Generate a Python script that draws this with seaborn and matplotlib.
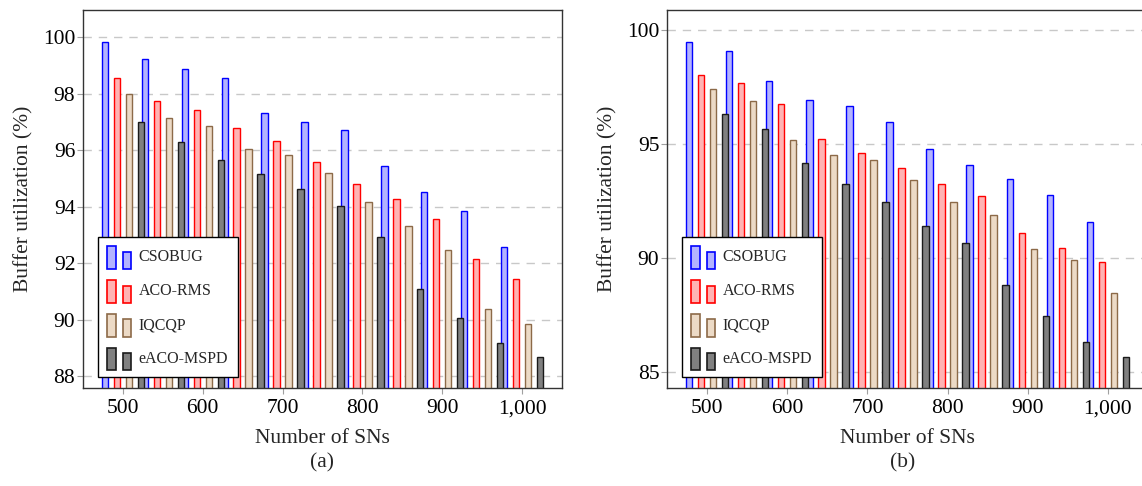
import numpy as np
import pandas as pd
import matplotlib
matplotlib.use("Agg")
import matplotlib.pyplot as plt
import seaborn as sns
from matplotlib.patches import Rectangle, Patch
from matplotlib.legend_handler import HandlerBase

# ---------------- data ----------------
sn_counts = [500, 550, 600, 650, 700, 750, 800, 850, 900, 950, 1000]
series_names = ["CSOBUG", "ACO-RMS", "IQCQP", "eACO-MSPD"]

a_csobug = [99.83, 99.21, 98.88, 98.57, 97.30, 97.00, 96.72, 95.44, 94.51, 93.86, 92.58]
a_aco_rms = [98.54, 97.73, 97.43, 96.80, 96.31, 95.59, 94.79, 94.27, 93.56, 92.15, 91.45]
a_iqcqp = [98.00, 97.12, 96.87, 96.05, 95.82, 95.20, 94.17, 93.33, 92.45, 90.36, 89.84]
a_eaco = [96.98, 96.27, 95.66, 95.15, 94.64, 94.02, 92.92, 91.10, 90.06, 89.19, 88.67]

b_csobug = [99.47, 99.08, 97.75, 96.93, 96.65, 95.95, 94.77, 94.05, 93.46, 92.76, 91.57]
b_aco_rms = [98.03, 97.65, 96.75, 95.22, 94.59, 93.95, 93.23, 92.71, 91.07, 90.44, 89.80]
b_iqcqp = [97.41, 96.89, 95.16, 94.53, 94.29, 93.41, 92.47, 91.87, 90.40, 89.91, 88.44]
b_eaco = [96.33, 95.66, 94.15, 93.22, 92.47, 91.38, 90.64, 88.80, 87.44, 86.30, 85.65]

x_ticks = [500, 600, 700, 800, 900, 1000]
x_tick_labels = ["500", "600", "700", "800", "900", "1,000"]
a_y_ticks = [88, 90, 92, 94, 96, 98, 100]
b_y_ticks = [85, 90, 95, 100]

# ---------------- style ----------------
sns.set_style("white")
plt.rcParams["font.family"] = ["Liberation Serif", "DejaVu Serif"]

fills = ["#b3b3ff", "#ffb3b3", "#ecdac6", "#808080"]
edges = ["#0000ff", "#ff0000", "#8c6a48", "#1a1a1a"]
offsets = [-22.5, -7.5, 7.5, 22.5]
bar_w = 8.0  # data units


class TwoBarHandler(HandlerBase):
    def create_artists(self, legend, orig_handle, xdescent, ydescent,
                       width, height, fontsize, trans):
        fc = orig_handle.get_facecolor()
        ec = orig_handle.get_edgecolor()
        w = width * 0.34
        r1 = Rectangle((-xdescent, -ydescent - 0.15 * height), w, height * 1.15,
                       facecolor=fc, edgecolor=ec, lw=1.2, transform=trans)
        r2 = Rectangle((-xdescent + width - w, -ydescent - 0.15 * height), w, height * 0.88,
                       facecolor=fc, edgecolor=ec, lw=1.2, transform=trans)
        return [r1, r2]


fig = plt.figure(figsize=(11.42, 4.86), dpi=100)
ax_a = fig.add_axes([83 / 1142, 98 / 486, 479 / 1142, 378 / 486])
ax_b = fig.add_axes([667 / 1142, 98 / 486, 481 / 1142, 378 / 486])

panels = [
    (ax_a, [a_csobug, a_aco_rms, a_iqcqp, a_eaco], a_y_ticks, (87.58, 100.96)),
    (ax_b, [b_csobug, b_aco_rms, b_iqcqp, b_eaco], b_y_ticks, (84.29, 100.87)),
]

for ax, series, yticks, ylim in panels:
    for i, vals in enumerate(series):
        df = pd.DataFrame({"x": np.array(sn_counts) + offsets[i], "y": vals})
        sns.barplot(data=df, x="x", y="y", native_scale=True, orient="x",
                    width=bar_w / 50.0, color=fills[i], saturation=1,
                    edgecolor=edges[i], linewidth=1.0, errorbar=None, ax=ax)
    ax.set_xlim(450, 1050)
    ax.set_ylim(*ylim)
    ax.set_xticks(x_ticks)
    ax.set_xticklabels(x_tick_labels)
    ax.set_yticks(yticks)
    ax.yaxis.grid(True, linestyle=(0, (6, 5)), color="#c8c8c8", linewidth=1.0)
    ax.xaxis.grid(False)
    ax.set_axisbelow(True)
    ax.tick_params(axis="both", which="major", direction="out", length=4,
                   width=0.8, color="#a0a0a0", labelsize=15.5,
                   bottom=True, left=True, labelcolor="black")
    ax.tick_params(axis="y", pad=1.5)
    ax.tick_params(axis="x", pad=4)
    for sp in ax.spines.values():
        sp.set_color("#333333")
        sp.set_linewidth(1.0)
    ax.set_xlabel("Number of SNs", fontsize=15.5, labelpad=8)
    ax.set_ylabel("Buffer utilization (%)", fontsize=15.5, labelpad=7)

    handles = [Patch(facecolor=fills[i], edgecolor=edges[i]) for i in range(4)]
    leg = ax.legend(handles=handles, labels=series_names, loc="lower left",
                    bbox_to_anchor=(0.031, 0.029), fontsize=11.5,
                    handler_map={Patch: TwoBarHandler()},
                    handlelength=1.5, handleheight=1.5, handletextpad=0.45,
                    labelspacing=0.9, borderpad=0.6, borderaxespad=0,
                    frameon=True, fancybox=False, framealpha=1, edgecolor="black")
    leg.get_frame().set_linewidth(1.0)

fig.text(322 / 1142, 1 - 463 / 486, "(a)", ha="center", va="center", fontsize=15.5)
fig.text(903 / 1142, 1 - 463 / 486, "(b)", ha="center", va="center", fontsize=15.5)

fig.savefig("out.png", dpi=100)
